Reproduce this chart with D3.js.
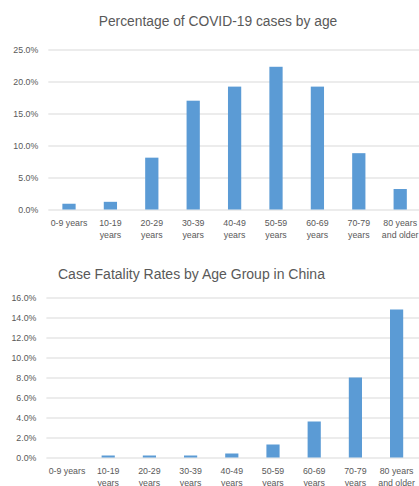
<!DOCTYPE html>
<html><head><meta charset="utf-8">
<script src="https://cdn.jsdelivr.net/npm/d3@7"></script>
<style>body{margin:0;background:#fff;overflow:hidden}svg{display:block}</style>
</head><body>
<script>
const categories = ["0-9 years","10-19 years","20-29 years","30-39 years","40-49 years","50-59 years","60-69 years","70-79 years","80 years and older"];
const labelLines = [["0-9 years"],["10-19","years"],["20-29","years"],["30-39","years"],["40-49","years"],["50-59","years"],["60-69","years"],["70-79","years"],["80 years","and older"]];
const casePct = [0.9, 1.2, 8.1, 17.0, 19.2, 22.3, 19.2, 8.8, 3.2];
const fatalityPct = [0.0, 0.2, 0.2, 0.2, 0.4, 1.3, 3.6, 8.0, 14.8];
const caseTicks = [0, 5, 10, 15, 20, 25];
const fatalityTicks = [0, 2, 4, 6, 8, 10, 12, 14, 16];
const title1 = "Percentage of COVID-19 cases by age";
const title2 = "Case Fatality Rates by Age Group in China";

const W = 419, H = 486;
const svg = d3.select("body").append("svg").attr("width", W).attr("height", H);
const font = "'Liberation Sans', Arial, sans-serif";
const txt = "#595959", grid = "#d9d9d9", bar = "#5b9bd5";

function chart(cfg){
  const x = d3.scaleBand().domain(categories).range(cfg.xr).paddingInner(0.68).paddingOuter(0.34);
  const y = d3.scaleLinear().domain([0, cfg.max]).range(cfg.yr);
  const g = svg.append("g");
  g.append("g").call(d3.axisLeft(y).tickValues(cfg.ticks).tickSize(-(W - cfg.xr[0] + 10)).tickFormat(d => d.toFixed(1) + "%").tickPadding(cfg.pad))
    .attr("transform", `translate(${cfg.xr[0]},0)`)
    .call(a => a.select(".domain").remove())
    .call(a => a.selectAll("line").attr("stroke", grid).attr("stroke-width", 1))
    .call(a => a.selectAll("text").attr("fill", txt).attr("font-size", cfg.tickFs).attr("font-family", font));
  g.selectAll("rect.bar").data(cfg.values).join("rect")
    .attr("class", "bar")
    .attr("x", (d, i) => x(categories[i]))
    .attr("width", x.bandwidth())
    .attr("y", d => y(d))
    .attr("height", d => y(0) - y(d))
    .attr("fill", bar);
  const xl = g.append("g").attr("font-family", font).attr("font-size", cfg.tickFs).attr("fill", txt).attr("text-anchor", "middle");
  categories.forEach((c, i) => {
    const t = xl.append("text").attr("x", x(c) + x.bandwidth() / 2).attr("y", y(0) + 16.5);
    labelLines[i].forEach((ln, j) => {
      t.append("tspan").attr("x", x(c) + x.bandwidth() / 2).attr("dy", j === 0 ? 0 : 12).text(ln);
    });
  });
  svg.append("text").attr("x", cfg.tx).attr("y", cfg.ty).attr("text-anchor", cfg.anchor)
    .attr("font-family", font).attr("font-size", cfg.titleFs).attr("fill", txt).text(cfg.title);
}

chart({values: casePct, ticks: caseTicks, max: 25, xr: [48.3, 420.9], yr: [209.5, 49.5],
  tickFs: 8.8, pad: 10, title: title1, tx: 218, ty: 25.5, anchor: "middle", titleFs: 13.8});
chart({values: fatalityPct, ticks: fatalityTicks, max: 16, xr: [46.4, 417.2], yr: [457.5, 297.5],
  tickFs: 8.8, pad: 10, title: title2, tx: 58, ty: 279, anchor: "start", titleFs: 14});
</script>
</body></html>
